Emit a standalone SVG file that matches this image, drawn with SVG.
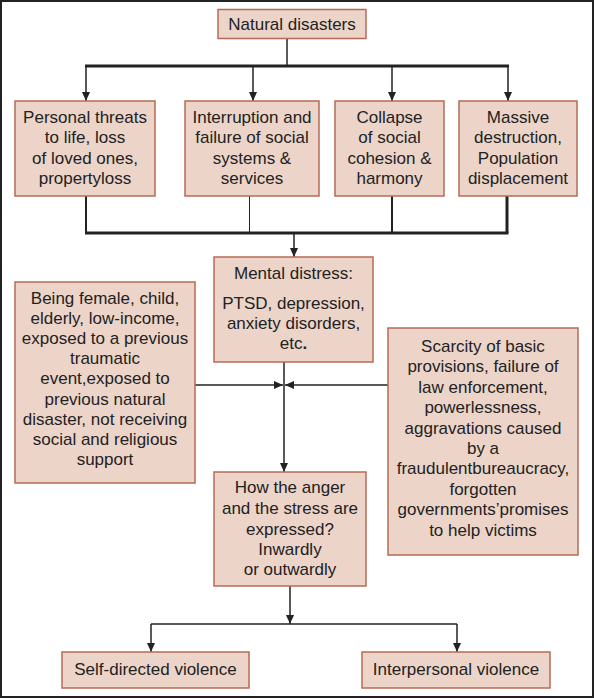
<svg xmlns="http://www.w3.org/2000/svg" width="594" height="698" viewBox="0 0 594 698">
<style>
.box{fill:#ecd4c9;stroke:#b66a55;stroke-width:1.5}
text{font-family:"Liberation Sans",Arial,sans-serif;font-size:17px;fill:#222;text-anchor:middle}
.ln{stroke:#222;fill:none;stroke-width:1.5}
.arr{marker-end:url(#ah)}
</style>
<defs>
<marker id="ah" markerUnits="userSpaceOnUse" markerWidth="10" markerHeight="10" viewBox="0 0 10 10" refX="9" refY="5" orient="auto">
<path d="M0,1 L9,5 L0,9 Z" fill="#222"/>
</marker>
</defs>
<rect x="1" y="1" width="592" height="696" fill="#fff" stroke="#222" stroke-width="2"/>
<g id="connectors">
<line class="ln" x1="287" y1="38" x2="287" y2="66" stroke-width="2.5"/>
<line class="ln" x1="85" y1="66" x2="509" y2="66" style="stroke-width:3"/>
<line class="ln arr" x1="86" y1="66" x2="86" y2="101"/>
<line class="ln arr" x1="253" y1="66" x2="253" y2="101"/>
<line class="ln arr" x1="392" y1="66" x2="392" y2="101"/>
<line class="ln arr" x1="508" y1="66" x2="508" y2="101"/>
<line class="ln" x1="86" y1="196" x2="86" y2="233" style="stroke-width:2"/>
<line class="ln" x1="249.5" y1="196" x2="249.5" y2="233" style="stroke-width:1"/>
<line class="ln" x1="392" y1="196" x2="392" y2="233" style="stroke-width:2"/>
<line class="ln" x1="507" y1="196" x2="507" y2="233" style="stroke-width:3"/>
<line class="ln" x1="85" y1="233" x2="508.5" y2="233" style="stroke-width:3"/>
<line class="ln arr" x1="294" y1="233" x2="294" y2="257"/>
<line class="ln arr" x1="284" y1="362" x2="284" y2="472"/>
<line class="ln arr" x1="195" y1="385" x2="283" y2="385"/>
<line class="ln arr" x1="390" y1="385" x2="285" y2="385"/>
<line class="ln arr" x1="290" y1="586" x2="290" y2="624"/>
<line class="ln" x1="151" y1="624" x2="457" y2="624"/>
<line class="ln arr" x1="151" y1="624" x2="151" y2="652"/>
<line class="ln arr" x1="457" y1="624" x2="457" y2="652"/>
</g>
<g id="n_disasters">
<rect class="box" x="218" y="9.5" width="148" height="29"/>
<text x="292" y="30">Natural disasters</text>
</g>
<g id="n_personal">
<rect class="box" x="15" y="101" width="140" height="95"/>
<text x="85" y="123">Personal threats</text>
<text x="85" y="143.3">to life, loss</text>
<text x="85" y="163.6">of loved ones,</text>
<text x="85" y="184">propertyloss</text>
</g>
<g id="n_interruption">
<rect class="box" x="185" y="101" width="134" height="95"/>
<text x="252" y="123">Interruption and</text>
<text x="252" y="143.3">failure of social</text>
<text x="252" y="163.6">systems &amp;</text>
<text x="252" y="184">services</text>
</g>
<g id="n_collapse">
<rect class="box" x="335" y="101" width="109" height="95"/>
<text x="389.5" y="123">Collapse</text>
<text x="389.5" y="143.3">of social</text>
<text x="389.5" y="163.6">cohesion &amp;</text>
<text x="389.5" y="184">harmony</text>
</g>
<g id="n_massive">
<rect class="box" x="459" y="101" width="118" height="95"/>
<text x="518" y="123">Massive</text>
<text x="518" y="143.3">destruction,</text>
<text x="518" y="163.6">Population</text>
<text x="518" y="184">displacement</text>
</g>
<g id="n_mental">
<rect class="box" x="214" y="257" width="159" height="105"/>
<text x="293.5" y="279">Mental distress:</text>
<text x="293.5" y="309">PTSD, depression,</text>
<text x="293.5" y="329">anxiety disorders,</text>
<text x="293.5" y="349">etc<tspan font-weight="bold">.</tspan></text>
</g>
<g id="n_risk">
<rect class="box" x="15" y="282" width="180" height="201"/>
<text x="105" y="304">Being female, child,</text>
<text x="105" y="324.1">elderly, low-income,</text>
<text x="105" y="344.2">exposed to a previous</text>
<text x="105" y="364.3">traumatic</text>
<text x="105" y="384.4">event,exposed to</text>
<text x="105" y="404.5">previous natural</text>
<text x="105" y="424.6">disaster, not receiving</text>
<text x="105" y="444.7">social and religious</text>
<text x="105" y="464.8">support</text>
</g>
<g id="n_scarcity">
<rect class="box" x="388" y="328" width="190" height="227"/>
<text x="483" y="352">Scarcity of basic</text>
<text x="483" y="372.4">provisions, failure of</text>
<text x="483" y="392.8">law enforcement,</text>
<text x="483" y="413.2">powerlessness,</text>
<text x="483" y="433.6">aggravations caused</text>
<text x="483" y="454">by a</text>
<text x="483" y="474.4">fraudulentbureaucracy,</text>
<text x="483" y="494.8">forgotten</text>
<text x="483" y="515.2">governments’promises</text>
<text x="483" y="535.6">to help victims</text>
</g>
<g id="n_how">
<rect class="box" x="214" y="472" width="152" height="114"/>
<text x="290" y="493">How the anger</text>
<text x="290" y="514">and the stress are</text>
<text x="290" y="535">expressed?</text>
<text x="290" y="555">Inwardly</text>
<text x="290" y="575">or outwardly</text>
</g>
<g id="n_self">
<rect class="box" x="62" y="652" width="187" height="36"/>
<text x="155.5" y="675">Self-directed violence</text>
</g>
<g id="n_inter">
<rect class="box" x="362" y="652" width="188" height="36"/>
<text x="456" y="675">Interpersonal violence</text>
</g>
</svg>
